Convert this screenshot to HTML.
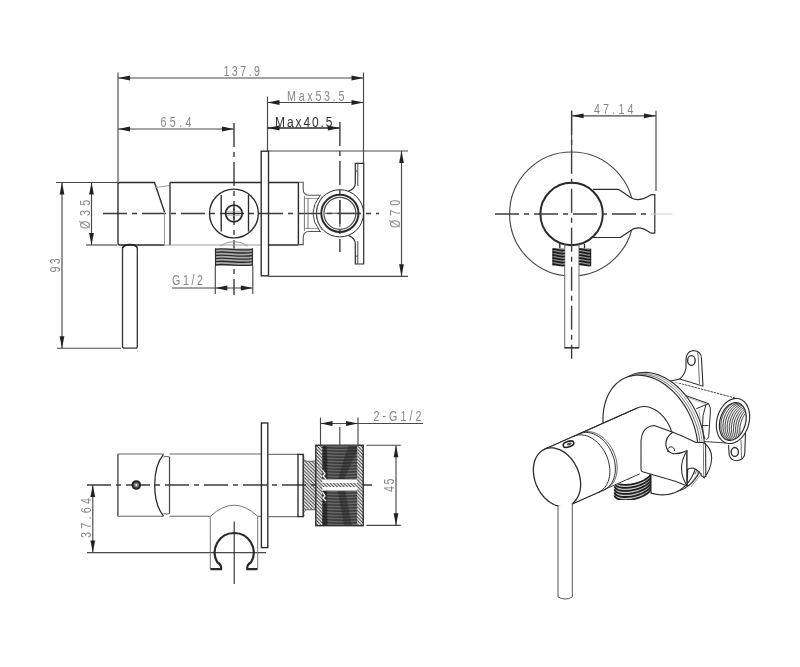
<!DOCTYPE html>
<html><head><meta charset="utf-8">
<style>
html,body{margin:0;padding:0;background:#fff;width:800px;height:667px;overflow:hidden}
svg{display:block;will-change:transform}
.k{stroke:#2a2a2a;stroke-width:1.35;fill:none}
.g{stroke:#484848;stroke-width:1.15;fill:none}
.lg{stroke:#9a9a9a;stroke-width:1;fill:none}
.c{stroke:#3c3c3c;stroke-width:1.4;fill:none;stroke-dasharray:24 5 5 5}
.ar{fill:#222;stroke:none}
text{font-family:"Liberation Sans",sans-serif}
.t{fill:#888}
.td{fill:#303030}
</style></head><body>
<svg width="800" height="667" viewBox="0 0 800 667">

<line class="g" x1="118" y1="72.5" x2="118" y2="182.5"/>
<line class="g" x1="363.5" y1="72.5" x2="363.5" y2="163"/>
<line class="g" x1="118" y1="78" x2="363.5" y2="78"/>
<path class="ar" d="M118.00,78.00 L130.00,75.60 L130.00,80.40 Z"/>
<path class="ar" d="M363.50,78.00 L351.50,80.40 L351.50,75.60 Z"/>
<text class="t" transform="translate(223.5,76) scale(0.74,1)" style="font-size:14.5px" textLength="49.32" lengthAdjust="spacing">137.9</text>
<line class="g" x1="267.5" y1="96.5" x2="267.5" y2="151"/>
<line class="g" x1="267.5" y1="102.5" x2="363.5" y2="102.5"/>
<path class="ar" d="M267.50,102.50 L279.50,100.10 L279.50,104.90 Z"/>
<path class="ar" d="M363.50,102.50 L351.50,104.90 L351.50,100.10 Z"/>
<text class="t" transform="translate(287,101) scale(0.74,1)" style="font-size:14.5px" textLength="77.70" lengthAdjust="spacing">Max53.5</text>
<line class="g" x1="118" y1="129" x2="234" y2="129"/>
<path class="ar" d="M118.00,129.00 L130.00,126.60 L130.00,131.40 Z"/>
<path class="ar" d="M234.00,129.00 L222.00,131.40 L222.00,126.60 Z"/>
<text class="t" transform="translate(160.5,126.7) scale(0.74,1)" style="font-size:14.5px" textLength="41.89" lengthAdjust="spacing">65.4</text>
<line class="k" x1="267.5" y1="128" x2="339.8" y2="128"/>
<path class="ar" d="M267.50,128.00 L279.50,125.60 L279.50,130.40 Z"/>
<path class="ar" d="M339.80,128.00 L327.80,130.40 L327.80,125.60 Z"/>
<text class="td" transform="translate(275,126.5) scale(0.8,1)" style="font-size:15px" textLength="71.88" lengthAdjust="spacing">Max40.5</text>
<line class="g" x1="268.5" y1="151" x2="408" y2="151"/>
<line class="g" x1="268.5" y1="276.3" x2="408" y2="276.3"/>
<line class="g" x1="401.5" y1="151" x2="401.5" y2="276.3"/>
<path class="ar" d="M401.50,151.00 L403.90,163.00 L399.10,163.00 Z"/>
<path class="ar" d="M401.50,276.30 L399.10,264.30 L403.90,264.30 Z"/>
<text class="t" transform="translate(399.5,228.05) rotate(-90) scale(0.74,1)" style="font-size:14.5px" textLength="38.24" lengthAdjust="spacing">Ø70</text>
<line class="g" x1="56" y1="182.5" x2="118" y2="182.5"/>
<line class="g" x1="86" y1="245" x2="117" y2="245"/>
<line class="g" x1="91.5" y1="182.5" x2="91.5" y2="245"/>
<path class="ar" d="M91.50,182.50 L93.90,194.50 L89.10,194.50 Z"/>
<path class="ar" d="M91.50,245.00 L89.10,233.00 L93.90,233.00 Z"/>
<text class="t" transform="translate(90,228.95000000000002) rotate(-90) scale(0.74,1)" style="font-size:14.5px" textLength="39.59" lengthAdjust="spacing">Ø35</text>
<line class="g" x1="57" y1="348.2" x2="121" y2="348.2"/>
<line class="g" x1="62" y1="182.5" x2="62" y2="348.2"/>
<path class="ar" d="M62.00,182.50 L64.40,194.50 L59.60,194.50 Z"/>
<path class="ar" d="M62.00,348.20 L59.60,336.20 L64.40,336.20 Z"/>
<text class="t" transform="translate(60.2,272.45) rotate(-90) scale(0.74,1)" style="font-size:14.5px" textLength="19.32" lengthAdjust="spacing">93</text>
<line class="g" x1="215.3" y1="266" x2="215.3" y2="294"/>
<line class="g" x1="252.8" y1="266" x2="252.8" y2="294"/>
<line class="g" x1="172" y1="288" x2="215.3" y2="288"/>
<line class="g" x1="215.3" y1="288" x2="252.8" y2="288"/>
<path class="ar" d="M215.30,288.00 L227.30,285.60 L227.30,290.40 Z"/>
<path class="ar" d="M252.80,288.00 L240.80,290.40 L240.80,285.60 Z"/>
<text class="t" transform="translate(172,285.2) scale(0.74,1)" style="font-size:14.5px" textLength="41.89" lengthAdjust="spacing">G1/2</text>
<line class="c" x1="103" y1="213.5" x2="379" y2="213.5"/>
<line class="c" x1="234" y1="123" x2="234" y2="295"/>
<line class="c" x1="339.9" y1="122" x2="339.9" y2="252"/>
<path class="k" d="M120,182.5 H154.5 L164.5,212 M164.5,245 H120 Q118,245 118,243 V184.5 Q118,182.5 120,182.5"/>
<path class="lg" d="M156,187.5 L169.5,185.5 M164.5,212 V245 H170"/>
<path class="k" d="M122.5,248 V346.5 Q122.5,348.2 124.5,348.2 H135.3 Q137.3,348.2 137.3,346.5 V248" style="stroke:#333;stroke-width:1.3"/>
<path class="k" d="M122.5,248 Q124,244.5 130,244.6 Q136,244.5 137.3,248" style="stroke:#222;stroke-width:1.6"/>
<path class="k" d="M170,182.5 H261 M170,182.5 V245"/>
<path class="lg" d="M170,245 H261"/>
<rect class="k" x="261.2" y="151.2" width="7.3" height="124.6"/>
<path class="k" d="M268.5,182.5 H298.5 M268.5,245 H298.5"/>
<path class="k" d="M298.4,182.3 V244.6" style="stroke-width:1.4"/>
<path class="g" d="M298.4,182.3 H303.2 V189 Q303.2,195.3 309,195.3 H321 M298.4,244.6 H303.2 V238 Q303.2,231.5 309,231.5 H321" style="stroke:#555;stroke-width:1.1"/>
<path class="g" d="M305,198.4 H319 M305,228.4 H319" style="stroke:#777;stroke-width:0.8"/>
<path class="g" d="M304.4,196 V231 M308,198 V229" style="stroke:#666;stroke-width:0.9"/>
<circle class="k" cx="339.9" cy="213.3" r="23.6" style="stroke-width:1"/>
<circle class="k" cx="339.9" cy="213.3" r="18.6" style="stroke-width:2"/>
<circle class="g" cx="339.9" cy="213.3" r="16"/>
<path class="g" d="M320,195.5 Q306,213.3 320,231.3" style="stroke-width:1"/>
<path class="g" d="M322,196.5 Q311,213.3 322,230.3" style="stroke-width:0.8;stroke:#666"/>
<path class="g" d="M325,213.3 H355 M339.9,200 V227" style="stroke-width:1.1"/>
<path class="k" d="M348.5,191 Q355.3,189 355.3,183 V163.3 H363.7 V264 H355.3 V244 Q355.3,238 348.5,235.6" style="stroke-width:1.2"/>
<path class="g" d="M357.8,163.3 V186 M357.8,241 V264 M355.3,171 H357.8 M355.3,256.2 H357.8" style="stroke-width:1"/>
<circle class="k" cx="233.9" cy="213.5" r="24.4"/>
<path class="k" d="M221.2,195 V231.5 M248.5,195 V231.5"/>
<circle class="k" cx="233.9" cy="213.5" r="8.3" style="stroke-width:1.8"/>
<path class="k" d="M228,213.5 H240 M233.9,207.5 V219.5" style="stroke-width:1.1"/>
<path class="lg" d="M226.5,211.5 H241.5 M226.5,215.5 H241.5" style="stroke-width:0.6"/>
<path class="lg" d="M220,246 Q234,237 248,246"/>
<rect x="215.5" y="248.3" width="37" height="17.7" fill="#aaa"/>
<g class="k" style="stroke-width:1.5;stroke:#1e1e1e">
<path class="k" d="M215.5,249.3 C224,247.5 240,251.5 252.5,249.3"/>
<path class="k" d="M215.5,252.4 C224,250.6 240,254.6 252.5,252.4"/>
<path class="k" d="M215.5,255.5 C224,253.7 240,257.7 252.5,255.5"/>
<path class="k" d="M215.5,258.6 C224,256.8 240,260.8 252.5,258.6"/>
<path class="k" d="M215.5,261.7 C224,259.9 240,263.9 252.5,261.7"/>
<path class="k" d="M215.5,264.8 C224,263.0 240,267.0 252.5,264.8"/>
<path class="k" d="M215.5,248.3 V266 M252.5,248.3 V266" style="stroke-width:1.1"/>
</g>
<line class="g" x1="571.6" y1="110.8" x2="571.6" y2="150"/>
<line class="g" x1="656" y1="110.8" x2="656" y2="191"/>
<line class="g" x1="571.6" y1="115.8" x2="656" y2="115.8"/>
<path class="ar" d="M571.60,115.80 L583.60,113.40 L583.60,118.20 Z"/>
<path class="ar" d="M656.00,115.80 L644.00,118.20 L644.00,113.40 Z"/>
<text class="t" transform="translate(594,113.5) scale(0.74,1)" style="font-size:14.5px" textLength="53.38" lengthAdjust="spacing">47.14</text>
<circle class="g" cx="571.6" cy="214" r="62"/>
<path class="k" d="M592.9,189.4 H618.6 Q623,192 630.1,197.3 Q638.5,203 651.1,194.7 Q652,194.4 654.8,194.7 V233 Q652,233.4 650.6,233 Q638.5,224 630.1,230.9 Q624,235 620.2,237.5 H592.9" style="stroke-width:1.2;fill:#fff"/>
<circle cx="571.6" cy="214" r="31.2" class="k" style="stroke-width:2;fill:#fff"/>
<rect x="565.3" y="246.6" width="13.1" height="101" fill="#fff"/>
<line class="c" x1="495" y1="214" x2="651" y2="214"/>
<line class="lg" x1="651" y1="214" x2="672.5" y2="214" style="stroke:#ccc"/>
<line class="c" x1="571.6" y1="110.8" x2="571.6" y2="358.8"/>
<path class="k" d="M564.7,244.5 V347.8 H579 V244.5" style="stroke-width:1.1;stroke:#777"/>
<path class="k" d="M564.7,347.8 H579" style="stroke-width:1.5;stroke:#333"/>
<g class="k" style="stroke-width:1.1">
<rect x="553" y="248.2" width="11.7" height="17.6" fill="#999" stroke="none"/><rect x="579" y="248.2" width="11.6" height="17.6" fill="#999" stroke="none"/>
<path class="k" d="M553,248.8 V265.5 M590.6,248.8 V265.5" style="stroke-width:1.2"/>
<path class="k" d="M552.5,249.3 C556,248.3 560,251.8 564.7,250.3 M579,249.3 C583,248.3 587,251.8 591,250.3 M552.5,252.3 C556,251.3 560,254.8 564.7,253.3 M579,252.3 C583,251.3 587,254.8 591,253.3 M552.5,255.3 C556,254.3 560,257.8 564.7,256.3 M579,255.3 C583,254.3 587,257.8 591,256.3 M552.5,258.3 C556,257.3 560,260.8 564.7,259.3 M579,258.3 C583,257.3 587,260.8 591,259.3 M552.5,261.3 C556,260.3 560,263.8 564.7,262.3 M579,261.3 C583,260.3 587,263.8 591,262.3 M552.5,264.3 C556,263.3 560,266.8 564.7,265.3 M579,264.3 C583,263.3 587,266.8 591,265.3 " style="stroke-width:1.7;stroke:#1a1a1a"/>
<path class="k" d="M559.8,244 V248.2 M584.5,244 V248.2"/>
</g>
<line class="c" x1="87" y1="485" x2="372" y2="485"/>
<path class="k" d="M117.9,454 V516.3" style="stroke:#444"/>
<path class="g" d="M117.9,454 H163.5 M117.9,516.3 H163.5 M169.5,454 H261.5 M169.5,516.3 H210.3 M257.7,516.3 H261.5" style="stroke:#6a6a6a;stroke-width:1.1"/>
<path class="k" d="M163.5,454.3 C157,462 154.7,474 154.7,485 C154.7,496 157,508 163.5,516" style="stroke-width:1.3"/>
<path class="g" d="M163.5,457 Q166,455.8 169.5,456.9 M163.5,513.5 Q166,514.6 169.5,513.5" style="stroke-width:0.9"/>
<path class="k" d="M169.5,456.9 V513.5" style="stroke:#444;stroke-width:1.2"/>
<circle cx="136.3" cy="485" r="3.8" fill="#777" stroke="#222" stroke-width="2"/>
<circle cx="136.3" cy="485" r="1" fill="#eee"/>
<line class="g" x1="87" y1="552.6" x2="266" y2="552.6"/>
<line class="g" x1="92.8" y1="485" x2="92.8" y2="552.6"/>
<path class="ar" d="M92.80,485.00 L95.20,497.00 L90.40,497.00 Z"/>
<path class="ar" d="M92.80,552.60 L90.40,540.60 L95.20,540.60 Z"/>
<text class="t" transform="translate(90.5,538.0) rotate(-90) scale(0.74,1)" style="font-size:14.5px" textLength="54.05" lengthAdjust="spacing">37.64</text>
<rect class="k" x="261.4" y="423" width="6.4" height="124.6"/>
<path class="g" d="M210.3,516.4 Q234.2,494 257.7,516.4 M210.3,516.4 V569.1 M257.7,516.4 V569.1" style="stroke:#777;stroke-width:1"/>
<path class="k" d="M210.5,569.1 H221.1 V567 Q221,564.5 217.3,562.25 A19.5,19.5 0 1 1 251.1,562.25 Q247.4,564.5 247.3,567 V569.1 H257.5" style="stroke-width:2.2"/>
<line class="k" x1="234.2" y1="521.4" x2="234.2" y2="584.1" style="stroke-width:1.1"/>
<path class="g" d="M267.8,454.4 H298 M267.8,516.6 H298" style="stroke:#777;stroke-width:1.1"/>
<rect class="k" x="298" y="454.4" width="5.2" height="62.2"/>
<defs><pattern id="hat" patternUnits="userSpaceOnUse" width="3.4" height="3.4"><path d="M-1,-1 L4.4,4.4 M-1,2.4 L1,4.4 M2.4,-1 L4.4,1" stroke="#2a2a2a" stroke-width="1.05"/></pattern></defs>
<path d="M302.6,455 L304.5,455 L304.5,459.5 Q305,461.2 307,461.2 L315.8,461.2 L315.8,509.8 L307,509.8 Q305,509.8 304.5,511.5 L304.5,516.2 L302.6,516.2 Z" fill="url(#hat)" stroke="none"/>
<path class="g" d="M304.5,459.5 Q305,461.2 307,461.2 L315.8,461.2 M304.5,511.5 Q305,509.8 307,509.8 L315.8,509.8" style="stroke-width:0.8"/>
<rect x="315.8" y="445.2" width="47.4" height="80.5" fill="#fff" stroke="#222" stroke-width="1.3"/>
<rect x="315.8" y="445.2" width="6.6" height="80.5" fill="url(#hat)"/>
<rect x="357.2" y="445.2" width="6" height="80.5" fill="url(#hat)"/>
<rect x="322.4" y="445.8" width="34.8" height="33.7" fill="#666"/>
<rect x="322.4" y="490.5" width="34.8" height="34.6" fill="#666"/>
<g style="stroke:#222;stroke-width:1.1;fill:none">
<path d="M322.4,447.5 Q340,448.7 357.2,447.7 M322.4,450.5 Q340,451.7 357.2,450.7 M322.4,453.5 Q340,454.7 357.2,453.7 M322.4,456.5 Q340,457.7 357.2,456.7 M322.4,459.5 Q340,460.7 357.2,459.7 M322.4,462.5 Q340,463.7 357.2,462.7 M322.4,465.5 Q340,466.7 357.2,465.7 M322.4,468.5 Q340,469.7 357.2,468.7 M322.4,471.5 Q340,472.7 357.2,471.7 M322.4,474.5 Q340,475.7 357.2,474.7 M322.4,477.5 Q340,478.7 357.2,477.7 M322.4,492.5 Q340,493.7 357.2,492.7 M322.4,495.5 Q340,496.7 357.2,495.7 M322.4,498.5 Q340,499.7 357.2,498.7 M322.4,501.5 Q340,502.7 357.2,501.7 M322.4,504.5 Q340,505.7 357.2,504.7 M322.4,507.5 Q340,508.7 357.2,507.7 M322.4,510.5 Q340,511.7 357.2,510.7 M322.4,513.5 Q340,514.7 357.2,513.7 M322.4,516.5 Q340,517.7 357.2,516.7 M322.4,519.5 Q340,520.7 357.2,519.7 M322.4,522.5 Q340,523.7 357.2,522.7 " stroke="#2a2a2a" stroke-width="1.1"/>
</g>
<path d="M322.4,446 L327,446 L327.5,479 L322.4,479 Z" fill="#222" opacity="0.8"/>
<path d="M348,446 L357,446 L357,452 L344,479 L338,479 Z" fill="#222" opacity="0.45"/>
<path d="M322.4,491 L327,491 L327.5,525 L322.4,525 Z" fill="#222" opacity="0.8"/>
<path d="M338,491 L345,491 L352,525 L344,525 Z" fill="#222" opacity="0.45"/>
<rect x="322.4" y="483" width="34.8" height="4" fill="url(#hat)"/>
<path d="M322.5,470 L325,474 L323,476 L326,479 M322.5,492 L325,496 L323,498 L326,501" stroke="#fff" stroke-width="1.3" fill="none"/>
<line class="g" x1="320.5" y1="417.6" x2="320.5" y2="445"/>
<line class="g" x1="358" y1="417.6" x2="358" y2="445"/>
<line class="g" x1="339.8" y1="427" x2="339.8" y2="445"/>
<line class="g" x1="358" y1="423.5" x2="423" y2="423.5"/>
<line class="g" x1="320.5" y1="423.5" x2="358" y2="423.5"/>
<path class="ar" d="M320.50,423.50 L332.50,421.10 L332.50,425.90 Z"/>
<path class="ar" d="M358.00,423.50 L346.00,425.90 L346.00,421.10 Z"/>
<text class="t" transform="translate(373.5,420.5) scale(0.74,1)" style="font-size:14.5px" textLength="64.86" lengthAdjust="spacing">2-G1/2</text>
<line class="g" x1="366.4" y1="445.2" x2="400.8" y2="445.2"/>
<line class="g" x1="366.4" y1="525.3" x2="400.8" y2="525.3"/>
<line class="g" x1="396" y1="445.2" x2="396" y2="525.3"/>
<path class="ar" d="M396.00,445.20 L398.40,457.20 L393.60,457.20 Z"/>
<path class="ar" d="M396.00,525.30 L393.60,513.30 L398.40,513.30 Z"/>
<text class="t" transform="translate(394,491.95) rotate(-90) scale(0.74,1)" style="font-size:14.5px" textLength="18.24" lengthAdjust="spacing">45</text>
<path class="k" d="M669,380.5 L737,398.5" style="stroke-width:1;stroke:#444;stroke-dasharray:2.5 0.8"/>
<path class="k" d="M702.2,441.4 L726,443" style="stroke-width:1;stroke:#444"/>
<path class="k" d="M728.6,445 L729.2,455.2 Q731,460.8 737,460.8 Q744.6,459.5 744.8,453 L745.5,432" style="stroke-width:1.1;fill:#fff"/>
<ellipse class="k" cx="734.8" cy="451.9" rx="3.6" ry="4.4" style="stroke-width:1.3"/>
<path class="g" d="M741,440 L741.5,458" style="stroke-width:0.8"/>
<path class="k" style="stroke-width:1.15;fill:#fff" d="M748.38,425.41 L747.90,426.94 L747.35,428.44 L746.73,429.91 L746.04,431.33 L745.28,432.71 L744.47,434.02 L743.60,435.27 L742.68,436.46 L741.72,437.56 L740.71,438.59 L739.66,439.53 L738.58,440.38 L737.47,441.14 L736.34,441.80 L735.20,442.35 L734.04,442.80 L732.88,443.15 L731.72,443.39 L730.57,443.52 L729.43,443.54 L728.30,443.45 L727.20,443.25 L726.13,442.94 L725.09,442.53 L724.09,442.01 L723.13,441.39 L722.22,440.66 L721.36,439.85 L720.56,438.94 L719.82,437.94 L719.14,436.86 L718.54,435.71 L718.00,434.48 L717.53,433.19 L717.14,431.83 L716.83,430.43 L716.60,428.98 L716.44,427.49 L716.37,425.96 L716.38,424.42 L716.47,422.85 L716.64,421.28 L716.89,419.71 L717.22,418.14 L717.62,416.59 L718.10,415.06 L718.65,413.56 L719.27,412.09 L719.96,410.67 L720.72,409.29 L721.53,407.98 L722.40,406.73 L723.32,405.54 L724.28,404.44 L725.29,403.41 L726.34,402.47 L727.42,401.62 L728.53,400.86 L729.66,400.20 L730.80,399.65 L731.96,399.20 L733.12,398.85 L734.28,398.61 L735.43,398.48 L736.57,398.46 L737.70,398.55 L738.80,398.75 L739.87,399.06 L740.91,399.47 L741.91,399.99 L742.87,400.61 L743.78,401.34 L744.64,402.15 L745.44,403.06 L746.18,404.06 L746.86,405.14 L747.46,406.29 L748.00,407.52 L748.47,408.81 L748.86,410.17 L749.17,411.57 L749.40,413.02 L749.56,414.51 L749.63,416.04 L749.62,417.58 L749.53,419.15 L749.36,420.72 L749.11,422.29 L748.78,423.86 L748.38,425.41 Z"/>
<path class="k" style="stroke-width:1.2;fill:#f4f4f4" d="M745.10,425.03 L744.70,426.31 L744.24,427.58 L743.73,428.81 L743.16,430.01 L742.54,431.16 L741.88,432.27 L741.17,433.32 L740.42,434.32 L739.63,435.26 L738.81,436.13 L737.96,436.93 L737.08,437.65 L736.18,438.29 L735.27,438.85 L734.34,439.33 L733.41,439.72 L732.48,440.02 L731.54,440.23 L730.61,440.35 L729.70,440.38 L728.80,440.32 L727.91,440.16 L727.05,439.92 L726.22,439.58 L725.42,439.16 L724.66,438.65 L723.94,438.05 L723.26,437.38 L722.62,436.63 L722.04,435.80 L721.51,434.91 L721.03,433.95 L720.61,432.93 L720.25,431.85 L719.95,430.72 L719.72,429.55 L719.55,428.34 L719.44,427.09 L719.40,425.82 L719.42,424.53 L719.51,423.22 L719.66,421.91 L719.88,420.59 L720.15,419.27 L720.50,417.97 L720.90,416.69 L721.36,415.42 L721.87,414.19 L722.44,412.99 L723.06,411.84 L723.72,410.73 L724.43,409.68 L725.18,408.68 L725.97,407.74 L726.79,406.87 L727.64,406.07 L728.52,405.35 L729.42,404.71 L730.33,404.15 L731.26,403.67 L732.19,403.28 L733.12,402.98 L734.06,402.77 L734.99,402.65 L735.90,402.62 L736.80,402.68 L737.69,402.84 L738.55,403.08 L739.38,403.42 L740.18,403.84 L740.94,404.35 L741.66,404.95 L742.34,405.62 L742.98,406.37 L743.56,407.20 L744.09,408.09 L744.57,409.05 L744.99,410.07 L745.35,411.15 L745.65,412.28 L745.88,413.45 L746.05,414.66 L746.16,415.91 L746.20,417.18 L746.18,418.47 L746.09,419.78 L745.94,421.09 L745.72,422.41 L745.45,423.73 L745.10,425.03 Z"/>
<clipPath id="pipec"><path d="M744.62,424.89 L744.23,426.14 L743.79,427.37 L743.29,428.57 L742.74,429.74 L742.14,430.87 L741.49,431.95 L740.81,432.98 L740.08,433.95 L739.32,434.87 L738.53,435.71 L737.71,436.49 L736.86,437.20 L736.00,437.83 L735.12,438.38 L734.22,438.85 L733.33,439.23 L732.42,439.53 L731.53,439.73 L730.63,439.86 L729.75,439.89 L728.88,439.83 L728.03,439.68 L727.21,439.44 L726.41,439.12 L725.64,438.71 L724.91,438.21 L724.22,437.64 L723.57,436.99 L722.96,436.26 L722.40,435.46 L721.89,434.59 L721.44,433.65 L721.04,432.66 L720.70,431.61 L720.41,430.52 L720.19,429.38 L720.03,428.20 L719.93,426.99 L719.89,425.75 L719.92,424.50 L720.01,423.22 L720.16,421.94 L720.37,420.66 L720.64,419.38 L720.98,418.11 L721.37,416.86 L721.81,415.63 L722.31,414.43 L722.86,413.26 L723.46,412.13 L724.11,411.05 L724.79,410.02 L725.52,409.05 L726.28,408.13 L727.07,407.29 L727.89,406.51 L728.74,405.80 L729.60,405.17 L730.48,404.62 L731.38,404.15 L732.27,403.77 L733.18,403.47 L734.07,403.27 L734.97,403.14 L735.85,403.11 L736.72,403.17 L737.57,403.32 L738.39,403.56 L739.19,403.88 L739.96,404.29 L740.69,404.79 L741.38,405.36 L742.03,406.01 L742.64,406.74 L743.20,407.54 L743.71,408.41 L744.16,409.35 L744.56,410.34 L744.90,411.39 L745.19,412.48 L745.41,413.62 L745.57,414.80 L745.67,416.01 L745.71,417.25 L745.68,418.50 L745.59,419.78 L745.44,421.06 L745.23,422.34 L744.96,423.62 L744.62,424.89 Z"/></clipPath>
<g clip-path="url(#pipec)">
<path style="stroke:#2a2a2a;stroke-width:0.9;fill:none" d="M746.60,425.03 L746.20,426.31 L745.74,427.58 L745.23,428.81 L744.66,430.01 L744.04,431.16 L743.38,432.27 L742.67,433.32 L741.92,434.32 L741.13,435.26 L740.31,436.13 L739.46,436.93 L738.58,437.65 L737.68,438.29 L736.77,438.85 L735.84,439.33 L734.91,439.72 L733.98,440.02 L733.04,440.23 L732.11,440.35 L731.20,440.38 L730.30,440.32 L729.41,440.16 L728.55,439.92 L727.72,439.58 L726.92,439.16 L726.16,438.65 L725.44,438.05 L724.76,437.38 L724.12,436.63 L723.54,435.80 L723.01,434.91 L722.53,433.95 L722.11,432.93 L721.75,431.85 L721.45,430.72 L721.22,429.55 L721.05,428.34 L720.94,427.09 L720.90,425.82 L720.92,424.53 L721.01,423.22 L721.16,421.91 L721.38,420.59 L721.65,419.27 L722.00,417.97 L722.40,416.69 L722.86,415.42 L723.37,414.19 L723.94,412.99 L724.56,411.84 L725.22,410.73 L725.93,409.68 L726.68,408.68 L727.47,407.74 L728.29,406.87 L729.14,406.07 L730.02,405.35 L730.92,404.71 L731.83,404.15 L732.76,403.67 L733.69,403.28 L734.62,402.98 L735.56,402.77 L736.49,402.65 L737.40,402.62 L738.30,402.68 L739.19,402.84 L740.05,403.08 L740.88,403.42 L741.68,403.84 L742.44,404.35 L743.16,404.95 L743.84,405.62 L744.48,406.37 L745.06,407.20 L745.59,408.09 L746.07,409.05 L746.49,410.07 L746.85,411.15 L747.15,412.28 L747.38,413.45 L747.55,414.66 L747.66,415.91 L747.70,417.18 L747.68,418.47 L747.59,419.78 L747.44,421.09 L747.22,422.41 L746.95,423.73 L746.60,425.03 Z"/>
<path style="stroke:#2a2a2a;stroke-width:0.9;fill:none" d="M748.70,425.53 L748.30,426.81 L747.84,428.08 L747.33,429.31 L746.76,430.51 L746.14,431.66 L745.48,432.77 L744.77,433.82 L744.02,434.82 L743.23,435.76 L742.41,436.63 L741.56,437.43 L740.68,438.15 L739.78,438.79 L738.87,439.35 L737.94,439.83 L737.01,440.22 L736.08,440.52 L735.14,440.73 L734.21,440.85 L733.30,440.88 L732.40,440.82 L731.51,440.66 L730.65,440.42 L729.82,440.08 L729.02,439.66 L728.26,439.15 L727.54,438.55 L726.86,437.88 L726.22,437.13 L725.64,436.30 L725.11,435.41 L724.63,434.45 L724.21,433.43 L723.85,432.35 L723.55,431.22 L723.32,430.05 L723.15,428.84 L723.04,427.59 L723.00,426.32 L723.02,425.03 L723.11,423.72 L723.26,422.41 L723.48,421.09 L723.75,419.77 L724.10,418.47 L724.50,417.19 L724.96,415.92 L725.47,414.69 L726.04,413.49 L726.66,412.34 L727.32,411.23 L728.03,410.18 L728.78,409.18 L729.57,408.24 L730.39,407.37 L731.24,406.57 L732.12,405.85 L733.02,405.21 L733.93,404.65 L734.86,404.17 L735.79,403.78 L736.72,403.48 L737.66,403.27 L738.59,403.15 L739.50,403.12 L740.40,403.18 L741.29,403.34 L742.15,403.58 L742.98,403.92 L743.78,404.34 L744.54,404.85 L745.26,405.45 L745.94,406.12 L746.58,406.87 L747.16,407.70 L747.69,408.59 L748.17,409.55 L748.59,410.57 L748.95,411.65 L749.25,412.78 L749.48,413.95 L749.65,415.16 L749.76,416.41 L749.80,417.68 L749.78,418.97 L749.69,420.28 L749.54,421.59 L749.32,422.91 L749.05,424.23 L748.70,425.53 Z"/>
<path style="stroke:#2a2a2a;stroke-width:0.9;fill:none" d="M750.80,426.03 L750.40,427.31 L749.94,428.58 L749.43,429.81 L748.86,431.01 L748.24,432.16 L747.58,433.27 L746.87,434.32 L746.12,435.32 L745.33,436.26 L744.51,437.13 L743.66,437.93 L742.78,438.65 L741.88,439.29 L740.97,439.85 L740.04,440.33 L739.11,440.72 L738.18,441.02 L737.24,441.23 L736.31,441.35 L735.40,441.38 L734.50,441.32 L733.61,441.16 L732.75,440.92 L731.92,440.58 L731.12,440.16 L730.36,439.65 L729.64,439.05 L728.96,438.38 L728.32,437.63 L727.74,436.80 L727.21,435.91 L726.73,434.95 L726.31,433.93 L725.95,432.85 L725.65,431.72 L725.42,430.55 L725.25,429.34 L725.14,428.09 L725.10,426.82 L725.12,425.53 L725.21,424.22 L725.36,422.91 L725.58,421.59 L725.85,420.27 L726.20,418.97 L726.60,417.69 L727.06,416.42 L727.57,415.19 L728.14,413.99 L728.76,412.84 L729.42,411.73 L730.13,410.68 L730.88,409.68 L731.67,408.74 L732.49,407.87 L733.34,407.07 L734.22,406.35 L735.12,405.71 L736.03,405.15 L736.96,404.67 L737.89,404.28 L738.82,403.98 L739.76,403.77 L740.69,403.65 L741.60,403.62 L742.50,403.68 L743.39,403.84 L744.25,404.08 L745.08,404.42 L745.88,404.84 L746.64,405.35 L747.36,405.95 L748.04,406.62 L748.68,407.37 L749.26,408.20 L749.79,409.09 L750.27,410.05 L750.69,411.07 L751.05,412.15 L751.35,413.28 L751.58,414.45 L751.75,415.66 L751.86,416.91 L751.90,418.18 L751.88,419.47 L751.79,420.78 L751.64,422.09 L751.42,423.41 L751.15,424.73 L750.80,426.03 Z"/>
<path style="stroke:#2a2a2a;stroke-width:0.9;fill:none" d="M752.90,426.53 L752.50,427.81 L752.04,429.08 L751.53,430.31 L750.96,431.51 L750.34,432.66 L749.68,433.77 L748.97,434.82 L748.22,435.82 L747.43,436.76 L746.61,437.63 L745.76,438.43 L744.88,439.15 L743.98,439.79 L743.07,440.35 L742.14,440.83 L741.21,441.22 L740.28,441.52 L739.34,441.73 L738.41,441.85 L737.50,441.88 L736.60,441.82 L735.71,441.66 L734.85,441.42 L734.02,441.08 L733.22,440.66 L732.46,440.15 L731.74,439.55 L731.06,438.88 L730.42,438.13 L729.84,437.30 L729.31,436.41 L728.83,435.45 L728.41,434.43 L728.05,433.35 L727.75,432.22 L727.52,431.05 L727.35,429.84 L727.24,428.59 L727.20,427.32 L727.22,426.03 L727.31,424.72 L727.46,423.41 L727.68,422.09 L727.95,420.77 L728.30,419.47 L728.70,418.19 L729.16,416.92 L729.67,415.69 L730.24,414.49 L730.86,413.34 L731.52,412.23 L732.23,411.18 L732.98,410.18 L733.77,409.24 L734.59,408.37 L735.44,407.57 L736.32,406.85 L737.22,406.21 L738.13,405.65 L739.06,405.17 L739.99,404.78 L740.92,404.48 L741.86,404.27 L742.79,404.15 L743.70,404.12 L744.60,404.18 L745.49,404.34 L746.35,404.58 L747.18,404.92 L747.98,405.34 L748.74,405.85 L749.46,406.45 L750.14,407.12 L750.78,407.87 L751.36,408.70 L751.89,409.59 L752.37,410.55 L752.79,411.57 L753.15,412.65 L753.45,413.78 L753.68,414.95 L753.85,416.16 L753.96,417.41 L754.00,418.68 L753.98,419.97 L753.89,421.28 L753.74,422.59 L753.52,423.91 L753.25,425.23 L752.90,426.53 Z"/>
<path style="stroke:#2a2a2a;stroke-width:0.9;fill:none" d="M755.00,427.03 L754.60,428.31 L754.14,429.58 L753.63,430.81 L753.06,432.01 L752.44,433.16 L751.78,434.27 L751.07,435.32 L750.32,436.32 L749.53,437.26 L748.71,438.13 L747.86,438.93 L746.98,439.65 L746.08,440.29 L745.17,440.85 L744.24,441.33 L743.31,441.72 L742.38,442.02 L741.44,442.23 L740.51,442.35 L739.60,442.38 L738.70,442.32 L737.81,442.16 L736.95,441.92 L736.12,441.58 L735.32,441.16 L734.56,440.65 L733.84,440.05 L733.16,439.38 L732.52,438.63 L731.94,437.80 L731.41,436.91 L730.93,435.95 L730.51,434.93 L730.15,433.85 L729.85,432.72 L729.62,431.55 L729.45,430.34 L729.34,429.09 L729.30,427.82 L729.32,426.53 L729.41,425.22 L729.56,423.91 L729.78,422.59 L730.05,421.27 L730.40,419.97 L730.80,418.69 L731.26,417.42 L731.77,416.19 L732.34,414.99 L732.96,413.84 L733.62,412.73 L734.33,411.68 L735.08,410.68 L735.87,409.74 L736.69,408.87 L737.54,408.07 L738.42,407.35 L739.32,406.71 L740.23,406.15 L741.16,405.67 L742.09,405.28 L743.02,404.98 L743.96,404.77 L744.89,404.65 L745.80,404.62 L746.70,404.68 L747.59,404.84 L748.45,405.08 L749.28,405.42 L750.08,405.84 L750.84,406.35 L751.56,406.95 L752.24,407.62 L752.88,408.37 L753.46,409.20 L753.99,410.09 L754.47,411.05 L754.89,412.07 L755.25,413.15 L755.55,414.28 L755.78,415.45 L755.95,416.66 L756.06,417.91 L756.10,419.18 L756.08,420.47 L755.99,421.78 L755.84,423.09 L755.62,424.41 L755.35,425.73 L755.00,427.03 Z"/>
<path style="stroke:#2a2a2a;stroke-width:0.9;fill:none" d="M757.10,427.53 L756.70,428.81 L756.24,430.08 L755.73,431.31 L755.16,432.51 L754.54,433.66 L753.88,434.77 L753.17,435.82 L752.42,436.82 L751.63,437.76 L750.81,438.63 L749.96,439.43 L749.08,440.15 L748.18,440.79 L747.27,441.35 L746.34,441.83 L745.41,442.22 L744.48,442.52 L743.54,442.73 L742.61,442.85 L741.70,442.88 L740.80,442.82 L739.91,442.66 L739.05,442.42 L738.22,442.08 L737.42,441.66 L736.66,441.15 L735.94,440.55 L735.26,439.88 L734.62,439.13 L734.04,438.30 L733.51,437.41 L733.03,436.45 L732.61,435.43 L732.25,434.35 L731.95,433.22 L731.72,432.05 L731.55,430.84 L731.44,429.59 L731.40,428.32 L731.42,427.03 L731.51,425.72 L731.66,424.41 L731.88,423.09 L732.15,421.77 L732.50,420.47 L732.90,419.19 L733.36,417.92 L733.87,416.69 L734.44,415.49 L735.06,414.34 L735.72,413.23 L736.43,412.18 L737.18,411.18 L737.97,410.24 L738.79,409.37 L739.64,408.57 L740.52,407.85 L741.42,407.21 L742.33,406.65 L743.26,406.17 L744.19,405.78 L745.12,405.48 L746.06,405.27 L746.99,405.15 L747.90,405.12 L748.80,405.18 L749.69,405.34 L750.55,405.58 L751.38,405.92 L752.18,406.34 L752.94,406.85 L753.66,407.45 L754.34,408.12 L754.98,408.87 L755.56,409.70 L756.09,410.59 L756.57,411.55 L756.99,412.57 L757.35,413.65 L757.65,414.78 L757.88,415.95 L758.05,417.16 L758.16,418.41 L758.20,419.68 L758.18,420.97 L758.09,422.28 L757.94,423.59 L757.72,424.91 L757.45,426.23 L757.10,427.53 Z"/>
<path style="stroke:#2a2a2a;stroke-width:0.9;fill:none" d="M759.20,428.03 L758.80,429.31 L758.34,430.58 L757.83,431.81 L757.26,433.01 L756.64,434.16 L755.98,435.27 L755.27,436.32 L754.52,437.32 L753.73,438.26 L752.91,439.13 L752.06,439.93 L751.18,440.65 L750.28,441.29 L749.37,441.85 L748.44,442.33 L747.51,442.72 L746.58,443.02 L745.64,443.23 L744.71,443.35 L743.80,443.38 L742.90,443.32 L742.01,443.16 L741.15,442.92 L740.32,442.58 L739.52,442.16 L738.76,441.65 L738.04,441.05 L737.36,440.38 L736.72,439.63 L736.14,438.80 L735.61,437.91 L735.13,436.95 L734.71,435.93 L734.35,434.85 L734.05,433.72 L733.82,432.55 L733.65,431.34 L733.54,430.09 L733.50,428.82 L733.52,427.53 L733.61,426.22 L733.76,424.91 L733.98,423.59 L734.25,422.27 L734.60,420.97 L735.00,419.69 L735.46,418.42 L735.97,417.19 L736.54,415.99 L737.16,414.84 L737.82,413.73 L738.53,412.68 L739.28,411.68 L740.07,410.74 L740.89,409.87 L741.74,409.07 L742.62,408.35 L743.52,407.71 L744.43,407.15 L745.36,406.67 L746.29,406.28 L747.22,405.98 L748.16,405.77 L749.09,405.65 L750.00,405.62 L750.90,405.68 L751.79,405.84 L752.65,406.08 L753.48,406.42 L754.28,406.84 L755.04,407.35 L755.76,407.95 L756.44,408.62 L757.08,409.37 L757.66,410.20 L758.19,411.09 L758.67,412.05 L759.09,413.07 L759.45,414.15 L759.75,415.28 L759.98,416.45 L760.15,417.66 L760.26,418.91 L760.30,420.18 L760.28,421.47 L760.19,422.78 L760.04,424.09 L759.82,425.41 L759.55,426.73 L759.20,428.03 Z"/>
<path style="stroke:#2a2a2a;stroke-width:0.9;fill:none" d="M761.30,428.53 L760.90,429.81 L760.44,431.08 L759.93,432.31 L759.36,433.51 L758.74,434.66 L758.08,435.77 L757.37,436.82 L756.62,437.82 L755.83,438.76 L755.01,439.63 L754.16,440.43 L753.28,441.15 L752.38,441.79 L751.47,442.35 L750.54,442.83 L749.61,443.22 L748.68,443.52 L747.74,443.73 L746.81,443.85 L745.90,443.88 L745.00,443.82 L744.11,443.66 L743.25,443.42 L742.42,443.08 L741.62,442.66 L740.86,442.15 L740.14,441.55 L739.46,440.88 L738.82,440.13 L738.24,439.30 L737.71,438.41 L737.23,437.45 L736.81,436.43 L736.45,435.35 L736.15,434.22 L735.92,433.05 L735.75,431.84 L735.64,430.59 L735.60,429.32 L735.62,428.03 L735.71,426.72 L735.86,425.41 L736.08,424.09 L736.35,422.77 L736.70,421.47 L737.10,420.19 L737.56,418.92 L738.07,417.69 L738.64,416.49 L739.26,415.34 L739.92,414.23 L740.63,413.18 L741.38,412.18 L742.17,411.24 L742.99,410.37 L743.84,409.57 L744.72,408.85 L745.62,408.21 L746.53,407.65 L747.46,407.17 L748.39,406.78 L749.32,406.48 L750.26,406.27 L751.19,406.15 L752.10,406.12 L753.00,406.18 L753.89,406.34 L754.75,406.58 L755.58,406.92 L756.38,407.34 L757.14,407.85 L757.86,408.45 L758.54,409.12 L759.18,409.87 L759.76,410.70 L760.29,411.59 L760.77,412.55 L761.19,413.57 L761.55,414.65 L761.85,415.78 L762.08,416.95 L762.25,418.16 L762.36,419.41 L762.40,420.68 L762.38,421.97 L762.29,423.28 L762.14,424.59 L761.92,425.91 L761.65,427.23 L761.30,428.53 Z"/>
<path style="stroke:#2a2a2a;stroke-width:0.9;fill:none" d="M763.40,429.03 L763.00,430.31 L762.54,431.58 L762.03,432.81 L761.46,434.01 L760.84,435.16 L760.18,436.27 L759.47,437.32 L758.72,438.32 L757.93,439.26 L757.11,440.13 L756.26,440.93 L755.38,441.65 L754.48,442.29 L753.57,442.85 L752.64,443.33 L751.71,443.72 L750.78,444.02 L749.84,444.23 L748.91,444.35 L748.00,444.38 L747.10,444.32 L746.21,444.16 L745.35,443.92 L744.52,443.58 L743.72,443.16 L742.96,442.65 L742.24,442.05 L741.56,441.38 L740.92,440.63 L740.34,439.80 L739.81,438.91 L739.33,437.95 L738.91,436.93 L738.55,435.85 L738.25,434.72 L738.02,433.55 L737.85,432.34 L737.74,431.09 L737.70,429.82 L737.72,428.53 L737.81,427.22 L737.96,425.91 L738.18,424.59 L738.45,423.27 L738.80,421.97 L739.20,420.69 L739.66,419.42 L740.17,418.19 L740.74,416.99 L741.36,415.84 L742.02,414.73 L742.73,413.68 L743.48,412.68 L744.27,411.74 L745.09,410.87 L745.94,410.07 L746.82,409.35 L747.72,408.71 L748.63,408.15 L749.56,407.67 L750.49,407.28 L751.42,406.98 L752.36,406.77 L753.29,406.65 L754.20,406.62 L755.10,406.68 L755.99,406.84 L756.85,407.08 L757.68,407.42 L758.48,407.84 L759.24,408.35 L759.96,408.95 L760.64,409.62 L761.28,410.37 L761.86,411.20 L762.39,412.09 L762.87,413.05 L763.29,414.07 L763.65,415.15 L763.95,416.28 L764.18,417.45 L764.35,418.66 L764.46,419.91 L764.50,421.18 L764.48,422.47 L764.39,423.78 L764.24,425.09 L764.02,426.41 L763.75,427.73 L763.40,429.03 Z"/>
<path style="stroke:#2a2a2a;stroke-width:0.9;fill:none" d="M765.50,429.53 L765.10,430.81 L764.64,432.08 L764.13,433.31 L763.56,434.51 L762.94,435.66 L762.28,436.77 L761.57,437.82 L760.82,438.82 L760.03,439.76 L759.21,440.63 L758.36,441.43 L757.48,442.15 L756.58,442.79 L755.67,443.35 L754.74,443.83 L753.81,444.22 L752.88,444.52 L751.94,444.73 L751.01,444.85 L750.10,444.88 L749.20,444.82 L748.31,444.66 L747.45,444.42 L746.62,444.08 L745.82,443.66 L745.06,443.15 L744.34,442.55 L743.66,441.88 L743.02,441.13 L742.44,440.30 L741.91,439.41 L741.43,438.45 L741.01,437.43 L740.65,436.35 L740.35,435.22 L740.12,434.05 L739.95,432.84 L739.84,431.59 L739.80,430.32 L739.82,429.03 L739.91,427.72 L740.06,426.41 L740.28,425.09 L740.55,423.77 L740.90,422.47 L741.30,421.19 L741.76,419.92 L742.27,418.69 L742.84,417.49 L743.46,416.34 L744.12,415.23 L744.83,414.18 L745.58,413.18 L746.37,412.24 L747.19,411.37 L748.04,410.57 L748.92,409.85 L749.82,409.21 L750.73,408.65 L751.66,408.17 L752.59,407.78 L753.52,407.48 L754.46,407.27 L755.39,407.15 L756.30,407.12 L757.20,407.18 L758.09,407.34 L758.95,407.58 L759.78,407.92 L760.58,408.34 L761.34,408.85 L762.06,409.45 L762.74,410.12 L763.38,410.87 L763.96,411.70 L764.49,412.59 L764.97,413.55 L765.39,414.57 L765.75,415.65 L766.05,416.78 L766.28,417.95 L766.45,419.16 L766.56,420.41 L766.60,421.68 L766.58,422.97 L766.49,424.28 L766.34,425.59 L766.12,426.91 L765.85,428.23 L765.50,429.53 Z"/>
</g>
<path class="k" d="M669,381.5 L679.5,379 Q684.5,375.5 686,368 L686,361 Q685.6,351.5 693.4,350.5 Q701.5,351 701.5,359 L703,386.2" style="stroke-width:1.1;fill:#fff"/>
<path class="k" d="M679.5,379 Q690,382 703,386.2" style="stroke-width:1"/>
<ellipse class="k" cx="691.4" cy="360.5" rx="3.8" ry="4.8" style="stroke-width:1.3"/>
<path class="g" d="M697.5,352.5 Q698.5,356 698.5,362 L699.5,384" style="stroke-width:0.8"/>
<path class="k" d="M681.7,394.1 L708.7,403.7 Q711,408 710.4,412 L708.7,436.8 Q708,439 706.5,439.5 M696.3,408.7 L708.7,403.7 M705.9,404.8 Q702,415 702.5,426.7 Q703,434 704.8,439 M702.5,425.6 H708.5" style="stroke-width:1"/>
<path class="g" d="M684,396 L706,404 M699,410 L702,438" style="stroke-width:0.6;stroke:#888"/>
<path class="k" style="stroke-width:1.1;fill:#fff" d="M697.10,414.30 L698.77,418.33 L700.24,422.42 L701.50,426.57 L702.55,430.73 L703.37,434.91 L703.96,439.07 L704.33,443.20 L704.46,447.28 L704.36,451.28 L704.03,455.19 L703.47,458.99 L702.69,462.66 L701.68,466.17 L700.45,469.53 L699.01,472.70 L697.37,475.67 L695.53,478.43 L693.50,480.97 L691.29,483.27 L688.91,485.32 L686.38,487.11 L683.71,488.64 L680.90,489.89 L677.98,490.85 L674.95,491.54 L671.84,491.93 L668.66,492.03 L665.41,491.84 L662.13,491.36 L658.82,490.60 L655.50,489.54 L652.18,488.21 L648.90,486.61 L645.64,484.74 L642.45,482.61 L639.32,480.24 L636.28,477.63 L633.34,474.81 L630.52,471.77 L627.82,468.55 L625.27,465.14 L622.87,461.58 L620.63,457.87 L618.58,454.04 L616.70,450.10 L615.03,446.07 L613.56,441.98 L612.30,437.83 L611.25,433.67 L610.43,429.49 L609.84,425.33 L609.47,421.20 L609.34,417.12 L609.44,413.12 L609.77,409.21 L610.33,405.41 L611.11,401.74 L612.12,398.23 L613.35,394.87 L614.79,391.70 L616.43,388.73 L618.27,385.97 L620.30,383.43 L622.51,381.13 L624.89,379.08 L627.42,377.29 L630.09,375.76 L632.90,374.51 L635.82,373.55 L638.85,372.86 L641.96,372.47 L645.14,372.37 L648.39,372.56 L651.67,373.04 L654.98,373.80 L658.30,374.86 L661.62,376.19 L664.90,377.79 L668.16,379.66 L671.35,381.79 L674.48,384.16 L677.52,386.77 L680.46,389.59 L683.28,392.63 L685.98,395.85 L688.53,399.26 L690.93,402.82 L693.17,406.53 L695.22,410.36 L697.10,414.30 Z"/>
<path class="k" style="stroke-width:1.15;fill:#fff" d="M690.70,417.10 L692.37,421.13 L693.84,425.22 L695.10,429.37 L696.15,433.53 L696.97,437.71 L697.56,441.87 L697.93,446.00 L698.06,450.08 L697.96,454.08 L697.63,457.99 L697.07,461.79 L696.29,465.46 L695.28,468.97 L694.05,472.33 L692.61,475.50 L690.97,478.47 L689.13,481.23 L687.10,483.77 L684.89,486.07 L682.51,488.12 L679.98,489.91 L677.31,491.44 L674.50,492.69 L671.58,493.65 L668.55,494.34 L665.44,494.73 L662.26,494.83 L659.01,494.64 L655.73,494.16 L652.42,493.40 L649.10,492.34 L645.78,491.01 L642.50,489.41 L639.24,487.54 L636.05,485.41 L632.92,483.04 L629.88,480.43 L626.94,477.61 L624.12,474.57 L621.42,471.35 L618.87,467.94 L616.47,464.38 L614.23,460.67 L612.18,456.84 L610.30,452.90 L608.63,448.87 L607.16,444.78 L605.90,440.63 L604.85,436.47 L604.03,432.29 L603.44,428.13 L603.07,424.00 L602.94,419.92 L603.04,415.92 L603.37,412.01 L603.93,408.21 L604.71,404.54 L605.72,401.03 L606.95,397.67 L608.39,394.50 L610.03,391.53 L611.87,388.77 L613.90,386.23 L616.11,383.93 L618.49,381.88 L621.02,380.09 L623.69,378.56 L626.50,377.31 L629.42,376.35 L632.45,375.66 L635.56,375.27 L638.74,375.17 L641.99,375.36 L645.27,375.84 L648.58,376.60 L651.90,377.66 L655.22,378.99 L658.50,380.59 L661.76,382.46 L664.95,384.59 L668.08,386.96 L671.12,389.57 L674.06,392.39 L676.88,395.43 L679.58,398.65 L682.13,402.06 L684.53,405.62 L686.77,409.33 L688.82,413.16 L690.70,417.10 Z"/>
<path class="g" style="stroke-width:0.8" d="M630.88,375.56 L633.90,374.80 L637.02,374.34 L640.21,374.17 L643.46,374.29 L646.76,374.71 L650.09,375.42 L653.43,376.42 L656.77,377.71 L660.09,379.27 L663.37,381.11 L666.60,383.20 L669.76,385.55 L672.84,388.14 L675.81,390.95 L678.68,393.97 L681.41,397.20 L684.00,400.60 L686.44,404.17 L688.71,407.89 L690.81,411.73 L692.71,415.69 L694.42,419.74 L695.92,423.85 L697.21,428.02 L698.27,432.22 L699.12,436.42 L699.73,440.61 L700.11,444.78 L700.26,448.88 L700.17,452.92 L699.85,456.86 L699.29,460.69 L698.51,464.38 L697.49,467.93 L696.26,471.30 L694.81,474.50"/>
<path class="g" style="stroke-width:0.7;stroke:#777" d="M632.98,374.66 L636.00,373.90 L639.12,373.44 L642.31,373.27 L645.56,373.39 L648.86,373.81 L652.19,374.52 L655.53,375.52 L658.87,376.81 L662.19,378.37 L665.47,380.21 L668.70,382.30 L671.86,384.65 L674.94,387.24 L677.91,390.05 L680.78,393.07 L683.51,396.30 L686.10,399.70 L688.54,403.27 L690.81,406.99 L692.91,410.83 L694.81,414.79 L696.52,418.84 L698.02,422.95 L699.31,427.12 L700.37,431.32 L701.22,435.52 L701.83,439.71 L702.21,443.88 L702.36,447.98 L702.27,452.02 L701.95,455.96 L701.39,459.79 L700.61,463.48 L699.59,467.03 L698.36,470.40 L696.91,473.60"/>
<path style="fill:#fff;stroke:none" d="M544.55,449.25 L637.28,407.96 L637.28,407.96 L638.71,407.41 L640.20,406.99 L641.73,406.71 L643.30,406.58 L644.90,406.59 L646.53,406.74 L648.17,407.03 L649.82,407.47 L651.47,408.04 L653.11,408.75 L654.73,409.59 L656.33,410.56 L657.90,411.65 L659.43,412.87 L660.91,414.19 L662.33,415.62 L663.70,417.15 L664.99,418.77 L666.21,420.47 L667.36,422.25 L668.41,424.10 L669.38,426.00 L670.24,427.95 L671.01,429.94 L671.68,431.96 L672.24,434.00 L672.69,436.04 L673.02,438.09 L673.24,440.13 L673.35,442.14 L673.35,444.13 L673.22,446.08 L672.99,447.97 L672.64,449.81 L672.18,451.58 L671.61,453.27 L670.93,454.88 L670.15,456.40 L669.27,457.81 L668.29,459.12 L667.23,460.32 L666.08,461.40 L664.85,462.35 L663.54,463.18 L662.17,463.87 L569.45,505.15 Z"/>
<path class="k" d="M544.55,449.25 L637.28,407.96" style="stroke-width:1"/>
<path class="k" style="stroke-width:1.05" d="M637.28,407.96 L638.74,407.40 L640.25,406.98 L641.82,406.70 L643.42,406.57 L645.05,406.60 L646.71,406.76 L648.38,407.08 L650.06,407.54 L651.74,408.15 L653.41,408.90 L655.06,409.78 L656.68,410.79 L658.27,411.94 L659.82,413.20 L661.31,414.58 L662.74,416.06 L664.11,417.65 L665.41,419.33 L666.63,421.09 L667.76,422.93 L668.80,424.83 L669.74,426.79 L670.58,428.79 L671.32,430.83 L671.95,432.90 L672.47,434.98 L672.87,437.07"/>
<path class="k" d="M569.45,505.15 L639.79,473.84" style="stroke-width:1"/>
<clipPath id="thc"><path d="M600,492 L643,473 L651,472 L651,500 L600,500 Z"/></clipPath>
<g clip-path="url(#thc)">
<path d="M600,492 L643,473 L651,472 L651,494 Q640,499 625,498 L612,494 Z" fill="#fff"/>
<path d="M650.82,470.63 L651.13,471.12 L651.36,471.64 L651.49,472.18 L651.54,472.74 L651.49,473.32 L651.36,473.92 L651.13,474.53 L650.82,475.15 L650.42,475.77 L649.93,476.40 L649.37,477.03 L648.72,477.66 L648.00,478.28 L647.20,478.89 L646.33,479.49 L645.40,480.08 L644.41,480.65 L643.36,481.20 L642.27,481.72 L641.12,482.22 L639.94,482.69 L638.73,483.14 L637.48,483.55 L636.22,483.92 L634.94,484.26 L633.64,484.56 L632.35,484.83 L631.06,485.05 L629.78,485.23 L628.51,485.37 L627.27,485.46 L626.05,485.51 L624.87,485.52 L623.73,485.48 L622.63,485.40 L621.59,485.28 L620.59,485.11 L619.66,484.90 L618.80,484.65 L618.00,484.36 L617.28,484.03 L616.63,483.67 L616.06,483.27 L615.58,482.84 L615.18,482.37 L614.87,481.88 L614.64,481.36 L614.51,480.82 L614.51,496.32 L614.64,496.86 L614.87,497.38 L615.18,497.87 L615.58,498.34 L616.06,498.77 L616.63,499.17 L617.28,499.53 L618.00,499.86 L618.80,500.15 L619.66,500.40 L620.59,500.61 L621.59,500.78 L622.63,500.90 L623.73,500.98 L624.87,501.02 L626.05,501.01 L627.27,500.96 L628.51,500.87 L629.78,500.73 L631.06,500.55 L632.35,500.33 L633.64,500.06 L634.94,499.76 L636.22,499.42 L637.48,499.05 L638.73,498.64 L639.94,498.19 L641.12,497.72 L642.27,497.22 L643.36,496.70 L644.41,496.15 L645.40,495.58 L646.33,494.99 L647.20,494.39 L648.00,493.78 L648.72,493.16 L649.37,492.53 L649.93,491.90 L650.42,491.27 L650.82,490.65 L651.13,490.03 L651.36,489.42 L651.49,488.82 L651.54,488.24 L651.49,487.68 L651.36,487.14 L651.13,486.62 L650.82,486.13 Z" fill="#c8c8c8"/>
<path class="k" style="stroke-width:1.8;stroke:#1e1e1e" d="M650.82,469.93 L651.13,470.42 L651.36,470.94 L651.49,471.48 L651.54,472.04 L651.49,472.62 L651.36,473.22 L651.13,473.83 L650.82,474.45 L650.42,475.07 L649.93,475.70 L649.37,476.33 L648.72,476.96 L648.00,477.58 L647.20,478.19 L646.33,478.79 L645.40,479.38 L644.41,479.95 L643.36,480.50 L642.27,481.02 L641.12,481.52 L639.94,481.99 L638.73,482.44 L637.48,482.85 L636.22,483.22 L634.94,483.56 L633.64,483.86 L632.35,484.13 L631.06,484.35 L629.78,484.53 L628.51,484.67 L627.27,484.76 L626.05,484.81 L624.87,484.82 L623.73,484.78 L622.63,484.70 L621.59,484.58 L620.59,484.41 L619.66,484.20 L618.80,483.95 L618.00,483.66 L617.28,483.33 L616.63,482.97 L616.06,482.57 L615.58,482.14 L615.18,481.67 L614.87,481.18 L614.64,480.66 L614.51,480.12"/>
<path class="k" style="stroke-width:1.8;stroke:#1e1e1e" d="M650.82,472.98 L651.13,473.47 L651.36,473.99 L651.49,474.53 L651.54,475.09 L651.49,475.67 L651.36,476.27 L651.13,476.88 L650.82,477.50 L650.42,478.12 L649.93,478.75 L649.37,479.38 L648.72,480.01 L648.00,480.63 L647.20,481.24 L646.33,481.84 L645.40,482.43 L644.41,483.00 L643.36,483.55 L642.27,484.07 L641.12,484.57 L639.94,485.04 L638.73,485.49 L637.48,485.90 L636.22,486.27 L634.94,486.61 L633.64,486.91 L632.35,487.18 L631.06,487.40 L629.78,487.58 L628.51,487.72 L627.27,487.81 L626.05,487.86 L624.87,487.87 L623.73,487.83 L622.63,487.75 L621.59,487.63 L620.59,487.46 L619.66,487.25 L618.80,487.00 L618.00,486.71 L617.28,486.38 L616.63,486.02 L616.06,485.62 L615.58,485.19 L615.18,484.72 L614.87,484.23 L614.64,483.71 L614.51,483.17"/>
<path class="k" style="stroke-width:1.8;stroke:#1e1e1e" d="M650.82,476.03 L651.13,476.52 L651.36,477.04 L651.49,477.58 L651.54,478.14 L651.49,478.72 L651.36,479.32 L651.13,479.93 L650.82,480.55 L650.42,481.17 L649.93,481.80 L649.37,482.43 L648.72,483.06 L648.00,483.68 L647.20,484.29 L646.33,484.89 L645.40,485.48 L644.41,486.05 L643.36,486.60 L642.27,487.12 L641.12,487.62 L639.94,488.09 L638.73,488.54 L637.48,488.95 L636.22,489.32 L634.94,489.66 L633.64,489.96 L632.35,490.23 L631.06,490.45 L629.78,490.63 L628.51,490.77 L627.27,490.86 L626.05,490.91 L624.87,490.92 L623.73,490.88 L622.63,490.80 L621.59,490.68 L620.59,490.51 L619.66,490.30 L618.80,490.05 L618.00,489.76 L617.28,489.43 L616.63,489.07 L616.06,488.67 L615.58,488.24 L615.18,487.77 L614.87,487.28 L614.64,486.76 L614.51,486.22"/>
<path class="k" style="stroke-width:1.8;stroke:#1e1e1e" d="M650.82,479.08 L651.13,479.57 L651.36,480.09 L651.49,480.63 L651.54,481.19 L651.49,481.77 L651.36,482.37 L651.13,482.98 L650.82,483.60 L650.42,484.22 L649.93,484.85 L649.37,485.48 L648.72,486.11 L648.00,486.73 L647.20,487.34 L646.33,487.94 L645.40,488.53 L644.41,489.10 L643.36,489.65 L642.27,490.17 L641.12,490.67 L639.94,491.14 L638.73,491.59 L637.48,492.00 L636.22,492.37 L634.94,492.71 L633.64,493.01 L632.35,493.28 L631.06,493.50 L629.78,493.68 L628.51,493.82 L627.27,493.91 L626.05,493.96 L624.87,493.97 L623.73,493.93 L622.63,493.85 L621.59,493.73 L620.59,493.56 L619.66,493.35 L618.80,493.10 L618.00,492.81 L617.28,492.48 L616.63,492.12 L616.06,491.72 L615.58,491.29 L615.18,490.82 L614.87,490.33 L614.64,489.81 L614.51,489.27"/>
<path class="k" style="stroke-width:1.8;stroke:#1e1e1e" d="M650.82,482.13 L651.13,482.62 L651.36,483.14 L651.49,483.68 L651.54,484.24 L651.49,484.82 L651.36,485.42 L651.13,486.03 L650.82,486.65 L650.42,487.27 L649.93,487.90 L649.37,488.53 L648.72,489.16 L648.00,489.78 L647.20,490.39 L646.33,490.99 L645.40,491.58 L644.41,492.15 L643.36,492.70 L642.27,493.22 L641.12,493.72 L639.94,494.19 L638.73,494.64 L637.48,495.05 L636.22,495.42 L634.94,495.76 L633.64,496.06 L632.35,496.33 L631.06,496.55 L629.78,496.73 L628.51,496.87 L627.27,496.96 L626.05,497.01 L624.87,497.02 L623.73,496.98 L622.63,496.90 L621.59,496.78 L620.59,496.61 L619.66,496.40 L618.80,496.15 L618.00,495.86 L617.28,495.53 L616.63,495.17 L616.06,494.77 L615.58,494.34 L615.18,493.87 L614.87,493.38 L614.64,492.86 L614.51,492.32"/>
<path class="k" style="stroke-width:1.8;stroke:#1e1e1e" d="M650.82,485.18 L651.13,485.67 L651.36,486.19 L651.49,486.73 L651.54,487.29 L651.49,487.87 L651.36,488.47 L651.13,489.08 L650.82,489.70 L650.42,490.32 L649.93,490.95 L649.37,491.58 L648.72,492.21 L648.00,492.83 L647.20,493.44 L646.33,494.04 L645.40,494.63 L644.41,495.20 L643.36,495.75 L642.27,496.27 L641.12,496.77 L639.94,497.24 L638.73,497.69 L637.48,498.10 L636.22,498.47 L634.94,498.81 L633.64,499.11 L632.35,499.38 L631.06,499.60 L629.78,499.78 L628.51,499.92 L627.27,500.01 L626.05,500.06 L624.87,500.07 L623.73,500.03 L622.63,499.95 L621.59,499.83 L620.59,499.66 L619.66,499.45 L618.80,499.20 L618.00,498.91 L617.28,498.58 L616.63,498.22 L616.06,497.82 L615.58,497.39 L615.18,496.92 L614.87,496.43 L614.64,495.91 L614.51,495.37"/>
</g>
<path class="k" d="M651,472.5 L651,493.5" style="stroke-width:1.1"/>
<path class="k" d="M641,469.8 L641,441 Q642,426.5 654.3,425.5 L672.8,432.3 Q664,441 668.6,451.8 L687,450.7 L687,485.9 Q676,481 666,478.5 L643.3,472 Q641,471.5 641,469.8 Z" style="stroke-width:1.05;fill:#fff"/>
<path class="k" d="M672.8,432.3 Q684,436.5 696,442.5 L703.4,442.5 L704.2,477.7 L702,476.2 Q699,470 693,468 Q689,468 687.7,469.5 L687,485.9 L687,450.7 Q680,454 673.5,453.7 Q667,452 666,446 Q665,437 672.8,432.3 Z" style="stroke-width:1.15;fill:#fff"/>
<path class="k" d="M687,450.7 Q676,468 687,485.9" style="stroke-width:1.05"/>
<path class="k" style="stroke-width:1" d="M668,452 A3.5,3.5 0 1 1 674.5,451"/>
<path class="k" d="M703.4,442.5 Q711.7,448 711.7,458 Q711,470 704.2,477.7 M705.6,443 L705.8,477" style="stroke-width:1.05;fill:#fff"/>
<path class="g" d="M689,486 L700,471 M691,487 L702,473" style="stroke-width:0.6"/>
<path style="fill:#fff;stroke:none" d="M544.55,449.25 L581.10,432.98 L581.10,432.98 L582.53,432.42 L584.01,432.00 L585.55,431.73 L587.12,431.59 L588.72,431.60 L590.35,431.75 L591.99,432.05 L593.64,432.48 L595.29,433.06 L596.93,433.76 L598.55,434.61 L600.15,435.58 L601.72,436.67 L603.24,437.88 L604.72,439.20 L606.15,440.63 L607.51,442.16 L608.81,443.78 L610.03,445.49 L611.17,447.26 L612.23,449.11 L613.19,451.01 L614.06,452.96 L614.83,454.95 L615.50,456.97 L616.05,459.01 L616.50,461.06 L616.84,463.11 L617.06,465.14 L617.17,467.16 L617.16,469.14 L617.04,471.09 L616.81,472.99 L616.46,474.82 L615.99,476.59 L615.42,478.29 L614.75,479.90 L613.97,481.41 L613.09,482.83 L612.11,484.14 L611.05,485.34 L609.89,486.41 L608.66,487.37 L607.36,488.19 L605.99,488.89 L569.45,505.15 Z"/>
<path class="k" style="stroke-width:1.0" d="M573.79,436.23 L575.22,435.67 L576.71,435.26 L578.24,434.98 L579.81,434.85 L581.41,434.86 L583.04,435.01 L584.68,435.30 L586.33,435.74 L587.98,436.31 L589.62,437.02 L591.24,437.86 L592.84,438.83 L594.41,439.92 L595.94,441.13 L597.42,442.46 L598.84,443.89 L600.21,445.42 L601.50,447.04 L602.72,448.74 L603.86,450.52 L604.92,452.36 L605.88,454.27 L606.75,456.22 L607.52,458.21 L608.19,460.23 L608.75,462.26 L609.19,464.31 L609.53,466.36 L609.75,468.40 L609.86,470.41 L609.86,472.40 L609.73,474.34 L609.50,476.24 L609.15,478.08 L608.69,479.85 L608.12,481.54 L607.44,483.15 L606.66,484.67 L605.78,486.08 L604.80,487.39 L603.74,488.59 L602.59,489.67 L601.36,490.62 L600.05,491.45 L598.68,492.14"/>
<path class="k" style="stroke-width:1.0" d="M579.27,433.79 L580.70,433.23 L582.19,432.82 L583.72,432.54 L585.29,432.41 L586.89,432.41 L588.52,432.57 L590.16,432.86 L591.81,433.30 L593.46,433.87 L595.10,434.58 L596.72,435.42 L598.32,436.39 L599.89,437.48 L601.42,438.69 L602.90,440.02 L604.32,441.45 L605.69,442.98 L606.98,444.60 L608.20,446.30 L609.35,448.08 L610.40,449.92 L611.37,451.83 L612.23,453.78 L613.00,455.77 L613.67,457.79 L614.23,459.82 L614.68,461.87 L615.01,463.92 L615.23,465.96 L615.34,467.97 L615.34,469.96 L615.21,471.90 L614.98,473.80 L614.63,475.64 L614.17,477.41 L613.60,479.10 L612.92,480.71 L612.14,482.23 L611.26,483.64 L610.28,484.95 L609.22,486.15 L608.07,487.23 L606.84,488.18 L605.53,489.01 L604.16,489.70"/>
<path class="k" style="stroke-width:0.7" d="M581.10,432.98 L582.53,432.42 L584.01,432.00 L585.55,431.73 L587.12,431.59 L588.72,431.60 L590.35,431.75 L591.99,432.05 L593.64,432.48 L595.29,433.06 L596.93,433.76 L598.55,434.61 L600.15,435.58 L601.72,436.67 L603.24,437.88 L604.72,439.20 L606.15,440.63 L607.51,442.16 L608.81,443.78 L610.03,445.49 L611.17,447.26 L612.23,449.11 L613.19,451.01 L614.06,452.96 L614.83,454.95 L615.50,456.97 L616.05,459.01 L616.50,461.06 L616.84,463.11 L617.06,465.14 L617.17,467.16 L617.16,469.14 L617.04,471.09 L616.81,472.99 L616.46,474.82 L615.99,476.59 L615.42,478.29 L614.75,479.90 L613.97,481.41 L613.09,482.83 L612.11,484.14 L611.05,485.34 L609.89,486.41 L608.66,487.37 L607.36,488.19 L605.99,488.89"/>
<path class="k" style="stroke-width:1.1" d="M544.55,449.25 L637.28,407.96"/>
<path class="k" style="stroke-width:1.1" d="M569.45,505.15 L605.99,488.89"/>
<path class="k" style="stroke-width:1.3;fill:#fff" d="M577.10,468.25 L577.92,470.22 L578.63,472.23 L579.25,474.26 L579.75,476.30 L580.14,478.35 L580.42,480.40 L580.59,482.42 L580.64,484.43 L580.58,486.39 L580.40,488.31 L580.10,490.18 L579.70,491.99 L579.18,493.72 L578.56,495.37 L577.83,496.94 L577.00,498.40 L576.07,499.77 L575.05,501.02 L573.94,502.16 L572.75,503.18 L571.48,504.07 L570.14,504.83 L568.74,505.45 L567.28,505.94 L565.77,506.28 L564.21,506.49 L562.63,506.55 L561.01,506.47 L559.38,506.25 L557.73,505.88 L556.08,505.38 L554.43,504.74 L552.80,503.96 L551.19,503.06 L549.60,502.02 L548.06,500.87 L546.55,499.60 L545.10,498.22 L543.70,496.74 L542.37,495.17 L541.11,493.51 L539.93,491.76 L538.83,489.95 L537.82,488.08 L536.90,486.15 L536.08,484.18 L535.37,482.17 L534.75,480.14 L534.25,478.10 L533.86,476.05 L533.58,474.00 L533.41,471.98 L533.36,469.97 L533.42,468.01 L533.60,466.09 L533.90,464.22 L534.30,462.41 L534.82,460.68 L535.44,459.03 L536.17,457.46 L537.00,456.00 L537.93,454.63 L538.95,453.38 L540.06,452.24 L541.25,451.22 L542.52,450.33 L543.86,449.57 L545.26,448.95 L546.72,448.46 L548.23,448.12 L549.79,447.91 L551.37,447.85 L552.99,447.93 L554.62,448.15 L556.27,448.52 L557.92,449.02 L559.57,449.66 L561.20,450.44 L562.81,451.34 L564.40,452.38 L565.94,453.53 L567.45,454.80 L568.90,456.18 L570.30,457.66 L571.63,459.23 L572.89,460.89 L574.07,462.64 L575.17,464.45 L576.18,466.32 L577.10,468.25 Z"/>
<ellipse cx="568.5" cy="444.2" rx="5.5" ry="2.8" transform="rotate(-18 568.5 444.2)" style="fill:#fff;stroke:#222;stroke-width:1.6"/>
<ellipse cx="569.3" cy="444" rx="2.5" ry="1.2" transform="rotate(-18 569.3 444)" style="fill:#555"/>
<path class="k" d="M558,506 V597 Q565,601 572.3,597 V503" style="stroke-width:1;stroke:#555;fill:#fff"/>
</svg>
</body></html>
